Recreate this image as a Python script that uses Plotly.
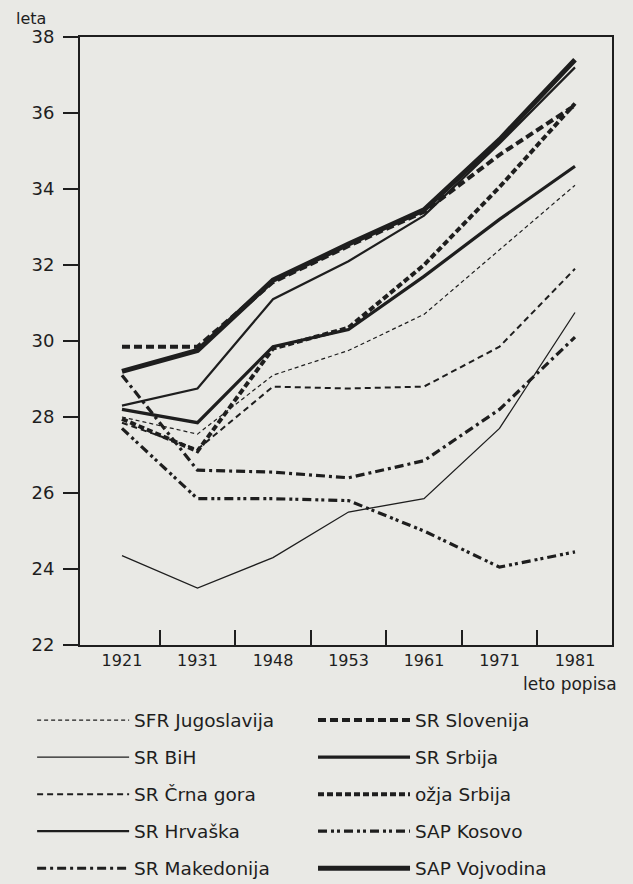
import plotly.graph_objects as go

years = ["1921", "1931", "1948", "1953", "1961", "1971", "1981"]

sfr_jugoslavija = [28.0, 27.55, 29.1, 29.75, 30.7, 32.4, 34.1]
sr_bih = [24.35, 23.5, 24.3, 25.5, 25.85, 27.7, 30.75]
sr_crna_gora = [27.85, 27.15, 28.8, 28.75, 28.8, 29.85, 31.9]
sr_hrvaska = [28.3, 28.75, 31.1, 32.1, 33.3, 35.2, 37.2]
sr_makedonija = [29.1, 26.6, 26.55, 26.4, 26.85, 28.2, 30.1]
sr_slovenija = [29.85, 29.85, 31.55, 32.5, 33.4, 34.9, 36.2]
sr_srbija = [28.2, 27.85, 29.85, 30.3, 31.7, 33.2, 34.6]
ozja_srbija = [27.95, 27.1, 29.8, 30.35, 32.0, 34.05, 36.25]
sap_kosovo = [27.7, 25.85, 25.85, 25.8, 25.0, 24.05, 24.45]
sap_vojvodina = [29.2, 29.75, 31.6, 32.55, 33.45, 35.3, 37.4]

y_ticks = [22, 24, 26, 28, 30, 32, 34, 36, 38]

INK = "#1e1e1e"
BG = "#e9e9e5"
FONT = "DejaVu Sans"

series = [
    ("SFR Jugoslavija", sfr_jugoslavija, 1.2, "4px,3px", "legend"),
    ("SR BiH", sr_bih, 1.3, "solid", "legend"),
    ("SR Črna gora", sr_crna_gora, 2.0, "6px,4px", "legend"),
    ("SR Hrvaška", sr_hrvaska, 2.2, "solid", "legend"),
    ("SR Makedonija", sr_makedonija, 3.2, "9px,4px,3px,4px", "legend"),
    ("SR Slovenija", sr_slovenija, 4.0, "8px,4px", "legend2"),
    ("SR Srbija", sr_srbija, 3.2, "solid", "legend2"),
    ("ožja Srbija", ozja_srbija, 4.0, "6px,3px", "legend2"),
    ("SAP Kosovo", sap_kosovo, 3.2, "9px,4px,3px,3px,3px,4px", "legend2"),
    ("SAP Vojvodina", sap_vojvodina, 5.0, "solid", "legend2"),
]

xidx = list(range(len(years)))

fig = go.Figure()
for name, vals, w, dash, lg in series:
    fig.add_trace(go.Scatter(
        x=xidx, y=vals, mode="lines", name=name,
        line=dict(color=INK, width=w, dash=dash),
        legend=lg, legendgroup=name,
    ))

# invisible trace to carry the between-category tick axis
fig.add_trace(go.Scatter(x=[], y=[], xaxis="x2", showlegend=False, hoverinfo="skip"))

xr = [-0.556, 6.49]
legend_common = dict(
    y=-0.093, xanchor="left", yanchor="top",
    bgcolor="rgba(0,0,0,0)", itemwidth=92, tracegroupgap=10,
    font=dict(family=FONT, size=18.5, color=INK),
)
fig.update_layout(
    width=633, height=884,
    margin=dict(l=80, r=21, t=37, b=239, autoexpand=False),
    paper_bgcolor=BG, plot_bgcolor=BG,
    font=dict(family=FONT, color=INK, size=17),
    xaxis=dict(
        range=xr, tickvals=xidx, ticktext=years, ticks="",
        showline=True, linewidth=2, linecolor=INK, mirror=True,
        showgrid=False, zeroline=False, tickfont=dict(size=16),
    ),
    xaxis2=dict(
        range=xr, overlaying="x", anchor="y", side="bottom",
        tickvals=[i + 0.5 for i in xidx[:-1]], ticks="inside", ticklen=15,
        tickwidth=1.5, tickcolor=INK, showticklabels=False,
        showline=False, showgrid=False, zeroline=False,
    ),
    yaxis=dict(
        range=[22, 38], tickvals=y_ticks, ticks="outside", ticklen=15,
        tickwidth=1.5, tickcolor=INK,
        showline=True, linewidth=2, linecolor=INK, mirror=True,
        showgrid=False, zeroline=False, tickfont=dict(size=18),
        ticklabelstandoff=5,
    ),
    legend=dict(x=-0.09, **legend_common),
    legend2=dict(x=0.438, **legend_common),
    annotations=[
        dict(text="leta", xref="paper", yref="paper", x=-0.092, y=1.03,
             xanchor="center", yanchor="middle", showarrow=False,
             font=dict(size=16)),
        dict(text="leto popisa", xref="paper", yref="paper", x=0.921, y=-0.064,
             xanchor="center", yanchor="middle", showarrow=False,
             font=dict(size=17)),
    ],
)

fig.write_html("out.html", config={"displayModeBar": False},
               post_script="document.body.style.margin='0';")
